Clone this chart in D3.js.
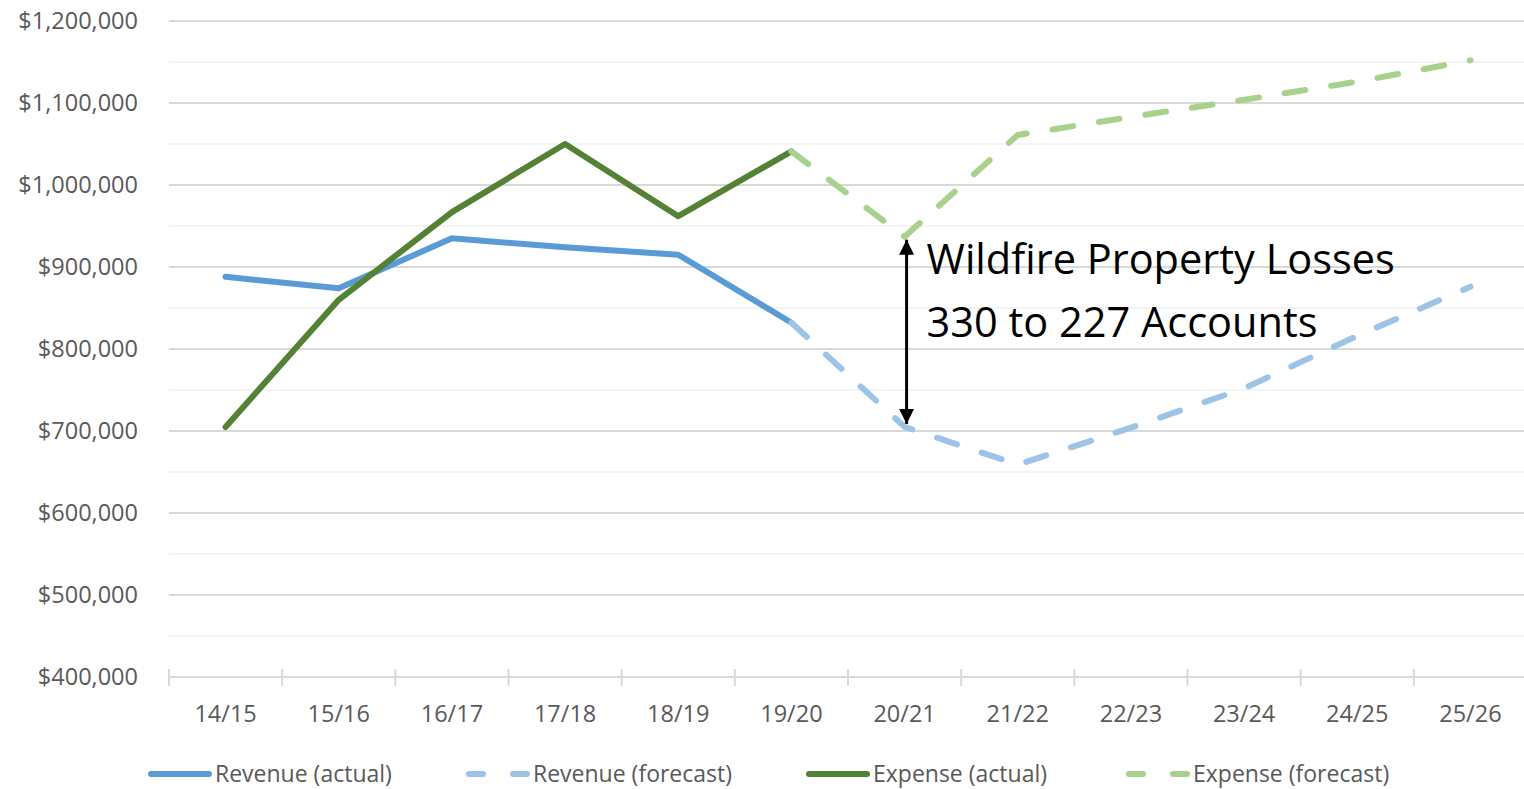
<!DOCTYPE html>
<html><head><meta charset="utf-8">
<script src="https://cdn.jsdelivr.net/npm/d3@7"></script>
<style>
html,body{margin:0;padding:0;background:#fff;}
svg{display:block;}
</style></head>
<body>
<svg id="chart" width="1524" height="789"></svg>
<script>
const categories = ["14/15","15/16","16/17","17/18","18/19","19/20","20/21","21/22","22/23","23/24","24/25","25/26"];
const revenueActual   = [888000, 874000, 935000, 924000, 915000, 832000, null, null, null, null, null, null];
const revenueForecast = [null, null, null, null, null, 832000, 705000, 659000, 704000, 752000, 816000, 876000];
const expenseActual   = [705000, 860000, 967000, 1050000, 962000, 1041000, null, null, null, null, null, null];
const expenseForecast = [null, null, null, null, null, 1041000, 937000, 1061000, 1083000, 1104000, 1126000, 1152000];
const yTicks = [400000, 500000, 600000, 700000, 800000, 900000, 1000000, 1100000, 1200000];
const yMinor = [450000, 550000, 650000, 750000, 850000, 950000, 1050000, 1150000];
const seriesNames = ["Revenue (actual)", "Revenue (forecast)", "Expense (actual)", "Expense (forecast)"];
const annotationLines = ["Wildfire Property Losses", "330 to 227 Accounts"];
const annotationCategory = "20/21";

(function () {
const colors = ["#5B9BD5", "#9DC3E6", "#548235", "#A9D18E"];
const dashed = [false, true, false, true];
const seriesData = [revenueActual, revenueForecast, expenseActual, expenseForecast];

const svg = d3.select("#chart");
const font = "'Open Sans', sans-serif";
const fs = 23.5;
const pLeft = 169, pRight = 1527, pTop = 21, pBottom = 677;

const x = d3.scaleBand().domain(categories).range([pLeft, pRight]).padding(0);
const y = d3.scaleLinear().domain([400000, 1200000]).range([pBottom, pTop]);

svg.append("g").selectAll("line").data(yMinor).join("line")
  .attr("x1", pLeft).attr("x2", 1524)
  .attr("y1", d => y(d)).attr("y2", d => y(d))
  .attr("stroke", "#f0f0f0").attr("stroke-width", 1.5);
svg.append("g").selectAll("line").data(yTicks.slice(1)).join("line")
  .attr("x1", pLeft).attr("x2", 1524)
  .attr("y1", d => y(d)).attr("y2", d => y(d))
  .attr("stroke", "#d9d9d9").attr("stroke-width", 2);

const yAxis = d3.axisLeft(y).tickValues(yTicks).tickSize(0).tickPadding(0)
  .tickFormat(d => "$" + d3.format(",")(d));
const gy = svg.append("g").attr("transform", `translate(138,0)`).call(yAxis);
gy.select(".domain").remove();
gy.selectAll("text").attr("font-family", font).attr("font-size", fs).attr("fill", "#595959").attr("dy", "0.33em");

const xAxis = d3.axisBottom(x).tickSize(0).tickPadding(0);
const gx = svg.append("g").attr("transform", `translate(0,${pBottom})`).call(xAxis);
gx.select(".domain").attr("stroke", "#d9d9d9").attr("stroke-width", 2).attr("d", `M${pLeft},0H1524`);
gx.selectAll("text").attr("font-family", font).attr("font-size", fs).attr("fill", "#595959").attr("y", 45).attr("dy", 0);
const bounds = categories.map(c => x(c));
svg.append("g").selectAll("line").data(bounds).join("line")
  .attr("x1", d => d).attr("x2", d => d)
  .attr("y1", pBottom - 8).attr("y2", pBottom + 9)
  .attr("stroke", "#d9d9d9").attr("stroke-width", 2);

const line = d3.line()
  .defined(d => d.v !== null)
  .x(d => x(d.c) + x.bandwidth() / 2)
  .y(d => y(d.v));

seriesData.forEach((arr, i) => {
  const pts = categories.map((c, j) => ({c, v: arr[j]}));
  svg.append("path").datum(pts)
    .attr("d", line)
    .attr("fill", "none")
    .attr("stroke", colors[i])
    .attr("stroke-width", 6)
    .attr("stroke-linejoin", "round")
    .attr("stroke-linecap", "round")
    .attr("stroke-dasharray", dashed[i] ? "21 26" : null);
});

const ax = x(annotationCategory) + x.bandwidth() / 2 + 2;
const yTopA = y(expenseForecast[categories.indexOf(annotationCategory)]);
const yBotA = y(revenueForecast[categories.indexOf(annotationCategory)]);
const defs = svg.append("defs");
defs.append("marker").attr("id", "ah").attr("viewBox", "0 0 10 10").attr("refX", 10).attr("refY", 5)
  .attr("markerWidth", 5).attr("markerHeight", 5).attr("markerUnits", "strokeWidth").attr("orient", "auto-start-reverse")
  .append("path").attr("d", "M0,0L10,5L0,10Z").attr("fill", "#000");
svg.append("line")
  .attr("x1", ax).attr("x2", ax).attr("y1", yTopA + 3).attr("y2", yBotA - 3)
  .attr("stroke", "#000").attr("stroke-width", 3)
  .attr("marker-start", "url(#ah)").attr("marker-end", "url(#ah)");

const ann = svg.append("text").attr("font-family", font).attr("font-size", 41.5).attr("fill", "#000");
annotationLines.forEach((t, i) => {
  ann.append("tspan").attr("x", ax + 20).attr("y", 274 + i * 63).text(t);
});

const legendX = [148, 466, 806, 1126];
const lg = svg.append("g");
seriesNames.forEach((n, i) => {
  const g = lg.append("g").attr("transform", `translate(${legendX[i]},774)`);
  g.append("line").attr("x1", 3).attr("x2", 61).attr("y1", 0).attr("y2", 0)
    .attr("stroke", colors[i]).attr("stroke-width", 6).attr("stroke-linecap", "round")
    .attr("stroke-dasharray", dashed[i] ? "14 30" : null);
  g.append("text").attr("x", 67).attr("y", 0).attr("dy", "0.33em")
    .attr("font-family", font).attr("font-size", 23).attr("fill", "#595959").text(n);
});
})();
</script>
</body></html>
